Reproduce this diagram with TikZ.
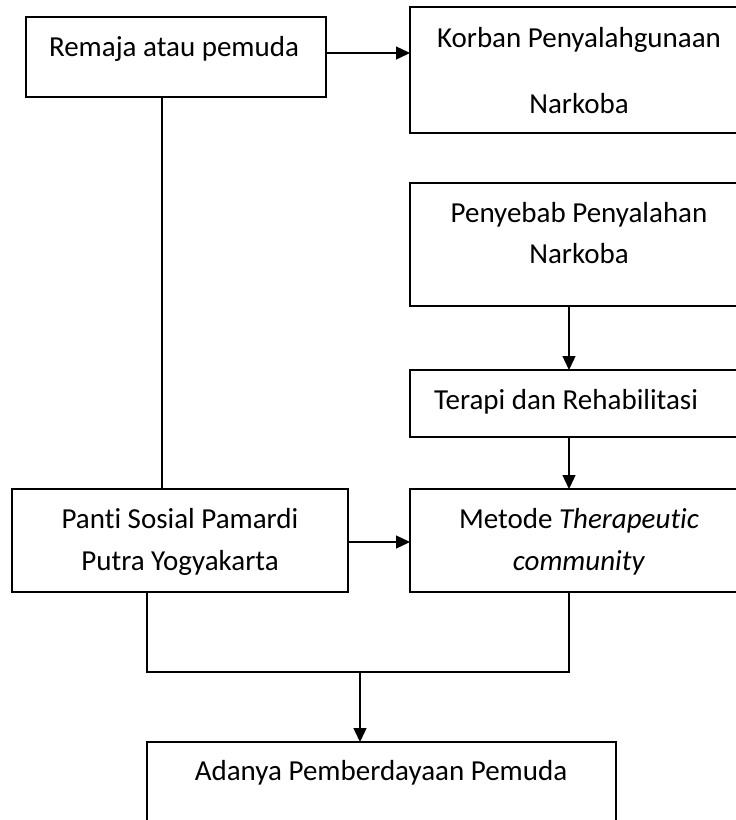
\documentclass[tikz,border=0pt]{standalone}
\usepackage{fontspec}
\setmainfont{Carlito}[Ligatures=NoCommon]
\usetikzlibrary{arrows.meta}
\begin{document}
\begin{tikzpicture}[x=1pt,y=-1pt,
  box/.style={draw=black,line width=1.4pt,rectangle,anchor=north west,inner sep=0pt,outer sep=0pt},
  lbl/.style={anchor=base,inner sep=0pt,font=\fontsize{29}{34}\selectfont},
  conn/.style={draw=black,line width=1.4pt},
  arr/.style={conn,-{Triangle[length=14pt,width=13pt]}}]
\useasboundingbox (0,0) rectangle (736,820);
\fill[white] (0,0) rectangle (736,820);
% boxes
\node[box,minimum width=300pt,minimum height=80pt] (remaja) at (26,17) {};
\node[box,minimum width=340pt,minimum height=126pt] (korban) at (410,7) {};
\node[box,minimum width=340pt,minimum height=123pt] (penyebab) at (410,183) {};
\node[box,minimum width=340pt,minimum height=67pt] (terapi) at (410,370) {};
\node[box,minimum width=340pt,minimum height=103pt] (metode) at (410,489) {};
\node[box,minimum width=336pt,minimum height=103pt] (panti) at (12,489) {};
\node[box,minimum width=469pt,minimum height=120pt] (adanya) at (147,742) {};
% texts
\node[lbl] (t1) at (174,56) {Remaja atau pemuda};
\node[lbl] (t2) at (579,47) {Korban Penyalahgunaan};
\node[lbl] (t3) at (579,113) {Narkoba};
\node[lbl] (t4) at (579,222) {Penyebab Penyalahan};
\node[lbl] (t5) at (579,263) {Narkoba};
\node[lbl] (t6) at (566,409) {Terapi dan Rehabilitasi};
\node[lbl] (t7) at (579,528) {Metode \textit{Therapeutic}};
\node[lbl] (t8) at (579,570) {\textit{community}};
\node[lbl] (t9) at (180,528) {Panti Sosial Pamardi};
\node[lbl] (t10) at (180,570) {Putra Yogyakarta};
\node[lbl] (t11) at (381,780) {Adanya Pemberdayaan Pemuda};
% helper coordinates
\coordinate (rx) at (162,0);
\coordinate (ax) at (569,0);
\coordinate (px) at (147,0);
\coordinate (jy) at (0,672);
\coordinate (mx) at (360,0);
\coordinate (ry) at (0,53);
\coordinate (py) at (0,542);
% connectors
\draw[arr] (remaja.east |- ry) -- (korban.west |- ry);
\draw[conn] (remaja.south -| rx) -- (panti.north -| rx);
\draw[arr] (penyebab.south -| ax) -- (terapi.north -| ax);
\draw[arr] (terapi.south -| ax) -- (metode.north -| ax);
\draw[arr] (panti.east |- py) -- (metode.west |- py);
\draw[conn] (panti.south -| px) -- (px |- jy) -- (ax |- jy) -- (metode.south -| ax);
\draw[arr] (mx |- jy) -- (adanya.north -| mx);
\end{tikzpicture}
\end{document}
